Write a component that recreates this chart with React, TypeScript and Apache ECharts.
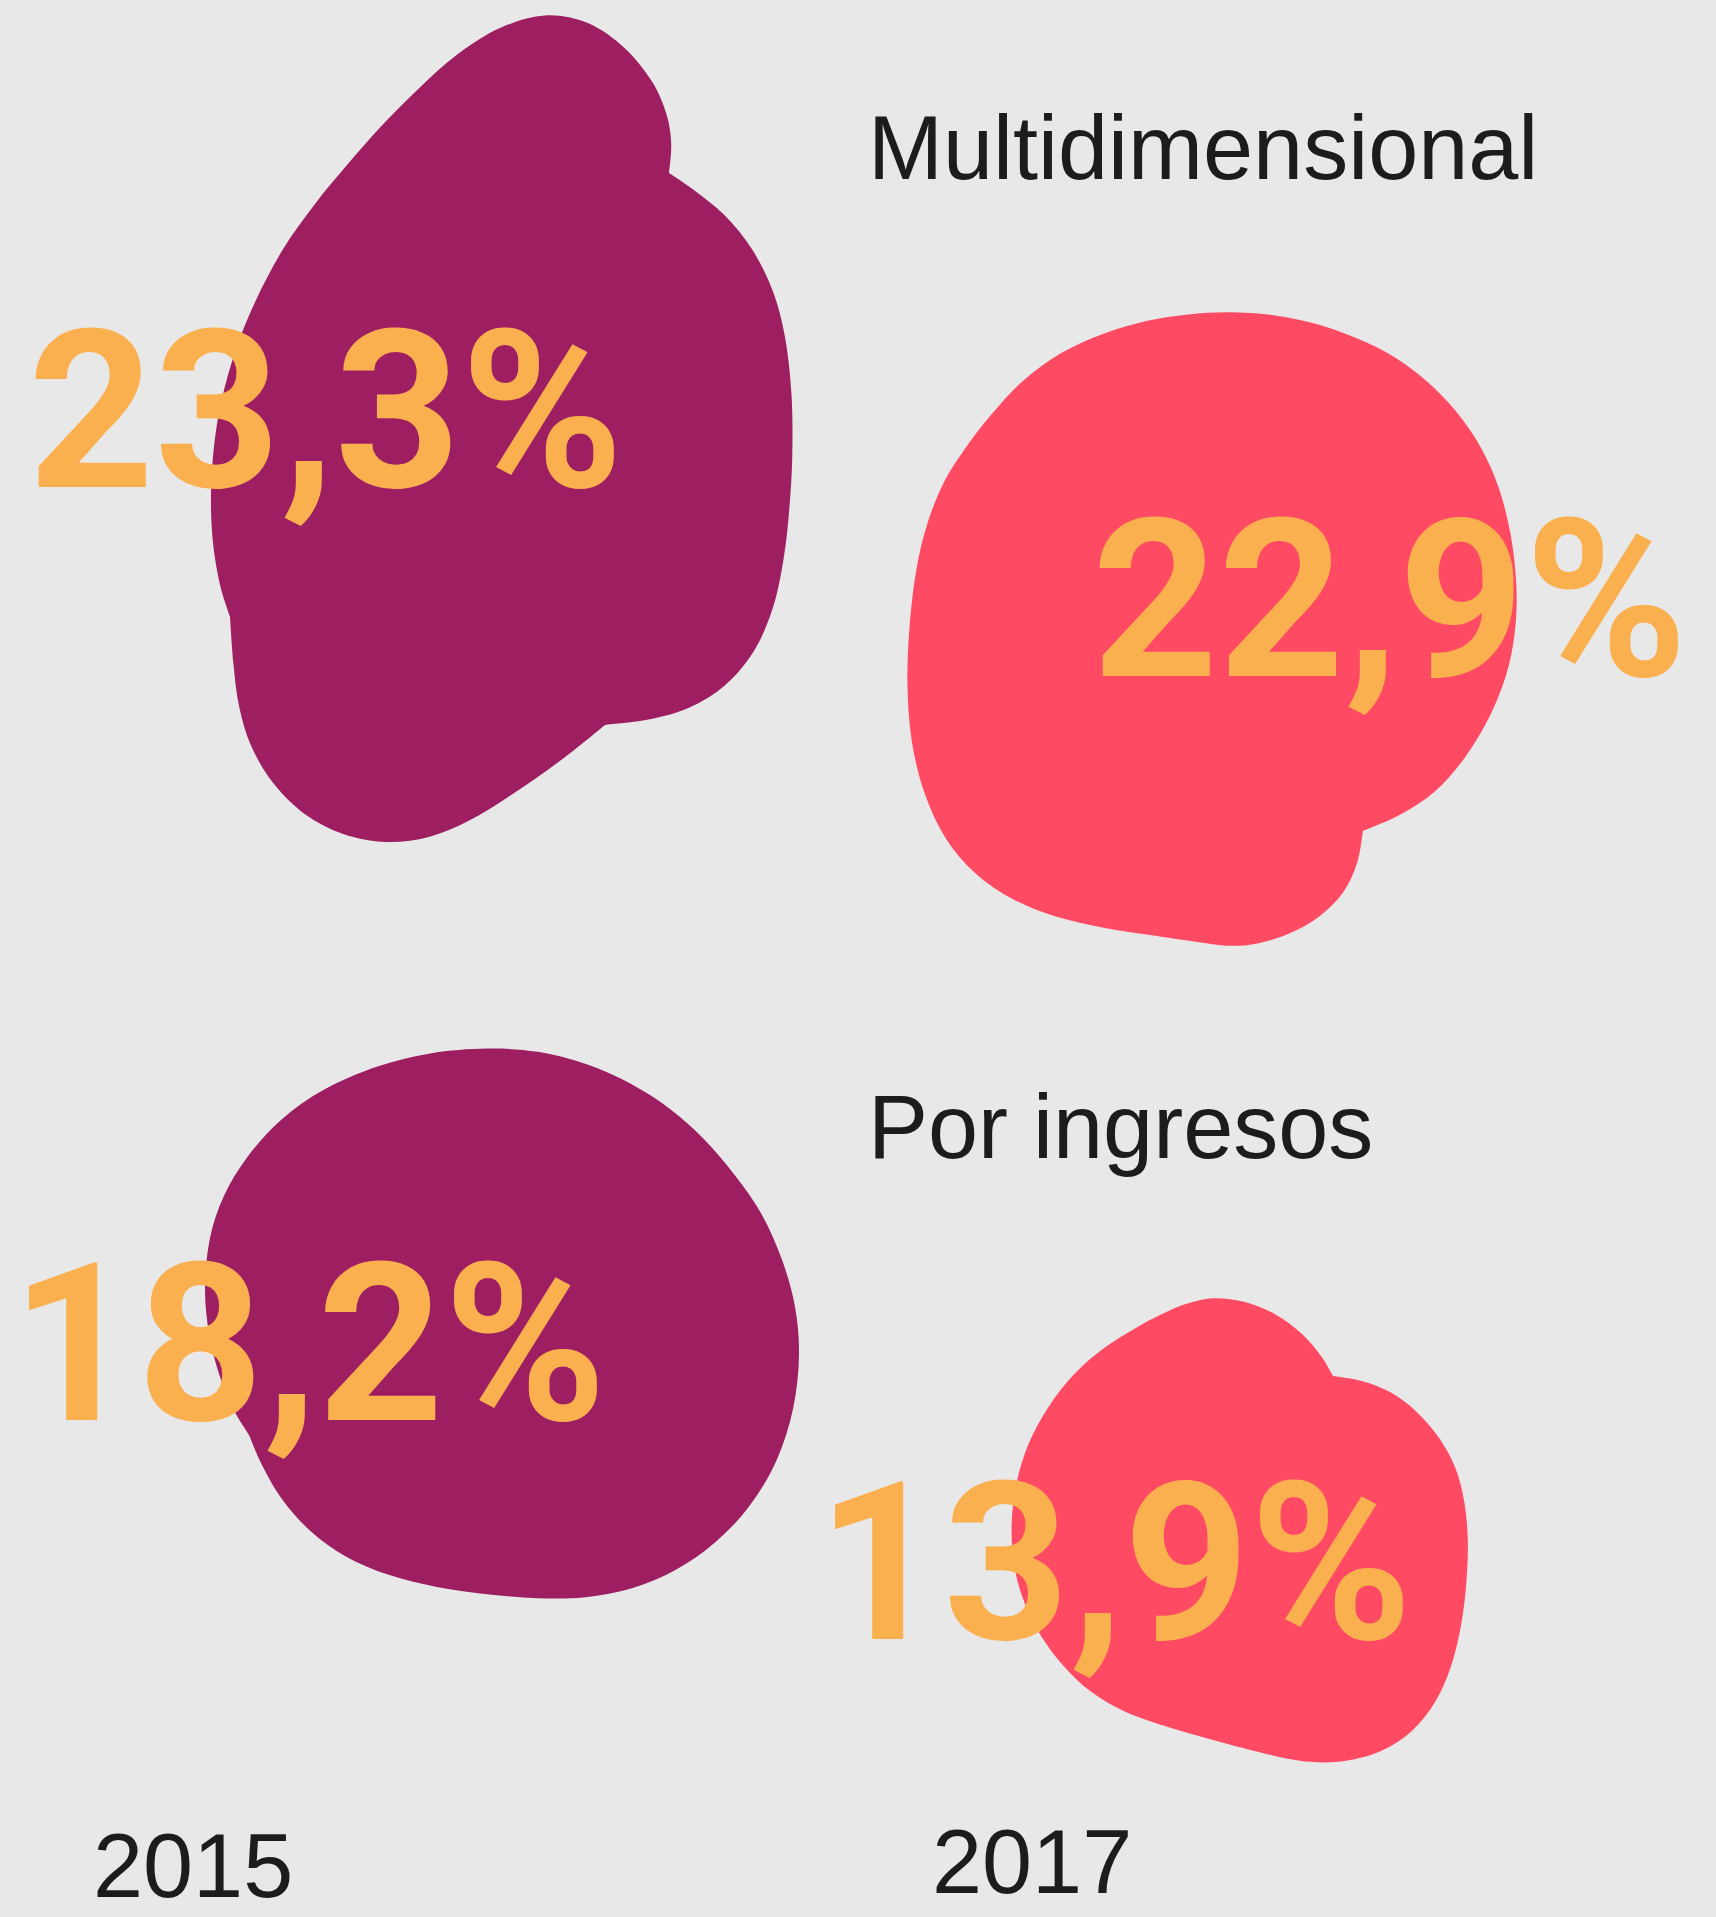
import React, { useEffect, useRef } from "react";
import * as echarts from "echarts";

// ---------- data ----------
const years = ["2015", "2017"];
const indicators = ["Multidimensional", "Por ingresos"];
const multidimensional = [23.3, 22.9];
const porIngresos = [18.2, 13.9];

// ---------- layout / style ----------
const W = 1716;
const H = 1917;
const BG = "#e8e8e8";
const YEAR_COLORS = ["#9e1e62", "#ff4a64"];
const NUM_COLOR = "#fbb04f";
const TEXT_COLOR = "#1c1c1c";
const GRID = { left: 500, top: 470, width: 725, height: 910 };

// blob outlines (page px for the reference grid); third item = corner
const OUTLINES: Record<string, number[][]> = {
  "0-0": [
    [457, 52], [501, 25], [545, 11], [589, 19], [627, 47], [655, 82], [668, 115], [673, 143],
    [669, 173, 1], [693, 189], [726, 214], [753, 247], [775, 291], [786, 335], [793, 395], [793, 461],
    [789, 516], [785, 554], [775, 609], [756, 653], [726, 688], [690, 710], [649, 721], [605, 725, 1],
    [567, 757], [512, 795], [468, 823], [430, 839], [386, 845], [342, 836], [304, 817], [271, 784],
    [249, 746], [238, 708], [233, 664], [230, 617, 1], [219, 587], [211, 537], [210, 483], [216, 417],
    [232, 356], [254, 302], [282, 247], [315, 203], [347, 165], [380, 126], [419, 88],
  ],
  "1-0": [
    [1228, 311], [1273, 314], [1320, 323], [1359, 339], [1393, 354], [1427, 380], [1457, 410],
    [1483, 448], [1500, 487], [1512, 534], [1518, 589], [1516, 632], [1508, 675], [1491, 717],
    [1465, 760], [1436, 794], [1401, 816], [1363, 831, 1], [1359, 863], [1346, 893], [1320, 918],
    [1290, 935], [1256, 945], [1230, 947], [1205, 943], [1158, 936], [1106, 929], [1055, 918],
    [1012, 901], [974, 875], [944, 841], [923, 794], [910, 743], [906, 683], [909, 623], [916, 564],
    [927, 521], [944, 478], [965, 448], [991, 414], [1021, 380], [1059, 352], [1102, 333],
    [1149, 319], [1188, 314],
  ],
  "0-1": [
    [490, 1047], [538, 1050], [585, 1062], [633, 1083], [672, 1109], [704, 1137], [736, 1176],
    [763, 1212], [783, 1259], [797, 1307], [801, 1354], [795, 1410], [779, 1461], [751, 1508],
    [716, 1544], [676, 1572], [633, 1590], [585, 1599], [538, 1599], [491, 1595], [435, 1588],
    [388, 1576], [344, 1558], [309, 1532], [281, 1501], [261, 1465], [249, 1435, 1], [232, 1410],
    [218, 1374], [208, 1334], [203, 1291], [208, 1236], [222, 1196], [245, 1157], [281, 1117],
    [320, 1089], [380, 1064], [427, 1052],
  ],
  "1-1": [
    [1213, 1296], [1243, 1300], [1277, 1313], [1303, 1333], [1323, 1357], [1333, 1376, 1],
    [1363, 1380], [1390, 1390], [1417, 1410], [1440, 1437], [1457, 1467], [1465, 1500], [1469, 1540],
    [1467, 1580], [1462, 1627], [1452, 1667], [1437, 1703], [1413, 1733], [1383, 1753], [1343, 1763],
    [1310, 1763], [1277, 1757], [1223, 1743], [1170, 1728], [1123, 1713], [1090, 1693], [1063, 1667],
    [1040, 1637], [1023, 1603], [1013, 1567], [1010, 1527], [1015, 1483], [1027, 1443], [1047, 1407],
    [1073, 1373], [1103, 1347], [1137, 1327], [1163, 1313], [1187, 1303],
  ],
};

// value label position (left x, middle y) per cell, reference page px
const LABEL_POS: Record<string, number[]> = {
  "0-0": [28, 412],
  "1-0": [1092, 601],
  "0-1": [11, 1345],
  "1-1": [817, 1564],
};

const NUM_FONT = "700 220px Roboto, 'Noto Sans', sans-serif";
const TITLE_FONT = "400 90px 'Liberation Sans', Arial, sans-serif";

// light smoothing of traced points (corners kept)
function smoothPts(pts: number[][]): number[][] {
  const n = pts.length;
  return pts.map((p, i) => {
    if (p[2]) return p;
    const a = pts[(i - 1 + n) % n];
    const b = pts[(i + 1) % n];
    return [0.6 * p[0] + 0.2 * (a[0] + b[0]), 0.6 * p[1] + 0.2 * (a[1] + b[1])];
  });
}

function buildPath(raw: number[][], dx: number, dy: number): string {
  const pts = smoothPts(raw);
  const n = pts.length;
  const P = pts.map((p) => [p[0] + dx, p[1] + dy]);
  const corner = pts.map((p) => !!p[2]);
  const tan = (i: number, out: boolean) => {
    const prev = P[(i - 1 + n) % n];
    const cur = P[i];
    const next = P[(i + 1) % n];
    if (corner[i]) {
      return out
        ? [(next[0] - cur[0]) / 2, (next[1] - cur[1]) / 2]
        : [(cur[0] - prev[0]) / 2, (cur[1] - prev[1]) / 2];
    }
    return [(next[0] - prev[0]) / 2, (next[1] - prev[1]) / 2];
  };
  const f = (v: number) => v.toFixed(1);
  let d = `M${f(P[0][0])},${f(P[0][1])}`;
  for (let i = 0; i < n; i++) {
    const j = (i + 1) % n;
    const t0 = tan(i, true);
    const t1 = tan(j, false);
    const c1 = [P[i][0] + t0[0] / 3, P[i][1] + t0[1] / 3];
    const c2 = [P[j][0] - t1[0] / 3, P[j][1] - t1[1] / 3];
    d += ` C${f(c1[0])},${f(c1[1])} ${f(c2[0])},${f(c2[1])} ${f(P[j][0])},${f(P[j][1])}`;
  }
  return d + " Z";
}

const fmt = (v: number) => v.toFixed(1).replace(".", ",") + "%";

export default function App() {
  const ref = useRef<HTMLDivElement>(null);
  useEffect(() => {
    document.body.style.margin = "0";
    if (!ref.current) return;
    const chart = echarts.init(ref.current, undefined, { renderer: "svg" });

    const cells: { yi: number; ii: number; v: number }[] = [];
    const seriesByIndicator = [multidimensional, porIngresos];
    seriesByIndicator.forEach((arr, ii) => {
      arr.forEach((v, yi) => cells.push({ yi, ii, v }));
    });
    const data = cells.map((c) => [years[c.yi], indicators[c.ii], c.v]);

    const shift = (params: any, api: any) => {
      const c = cells[params.dataIndex];
      const p = api.coord([years[c.yi], indicators[c.ii]]);
      const refX = GRID.left + c.yi * GRID.width;
      const refY = GRID.top + c.ii * GRID.height;
      return { c, dx: p[0] - refX, dy: p[1] - refY, key: `${c.yi}-${c.ii}` };
    };

    const titleText = (text: string, x: number, y: number) => ({
      type: "text",
      x,
      y,
      style: { text, font: TITLE_FONT, fill: TEXT_COLOR, align: "left", verticalAlign: "middle" },
    });

    chart.setOption({
      animation: false,
      backgroundColor: BG,
      grid: { left: GRID.left, top: GRID.top, width: GRID.width, height: GRID.height },
      xAxis: { type: "category", data: years, boundaryGap: false, show: false },
      yAxis: { type: "category", data: indicators, boundaryGap: false, inverse: true, show: false },
      graphic: [
        titleText(indicators[0], 868, 148),
        titleText(indicators[1], 868, 1127),
        titleText(years[0], 93, 1866),
        titleText(years[1], 932, 1862),
      ],
      series: [
        {
          type: "custom",
          clip: false,
          z: 2,
          data,
          renderItem: (params: any, api: any) => {
            const { c, dx, dy, key } = shift(params, api);
            return {
              type: "path",
              shape: { pathData: buildPath(OUTLINES[key], dx, dy) },
              style: { fill: YEAR_COLORS[c.yi] },
            };
          },
        },
        {
          type: "custom",
          clip: false,
          z: 3,
          data,
          renderItem: (params: any, api: any) => {
            const { c, dx, dy, key } = shift(params, api);
            const lp = LABEL_POS[key];
            return {
              type: "text",
              x: lp[0] + dx,
              y: lp[1] + dy,
              style: {
                text: fmt(c.v),
                font: NUM_FONT,
                fill: NUM_COLOR,
                align: "left",
                verticalAlign: "middle",
              },
            };
          },
        },
      ],
    });
    return () => chart.dispose();
  }, []);
  return <div ref={ref} style={{ width: W, height: H }} />;
}
